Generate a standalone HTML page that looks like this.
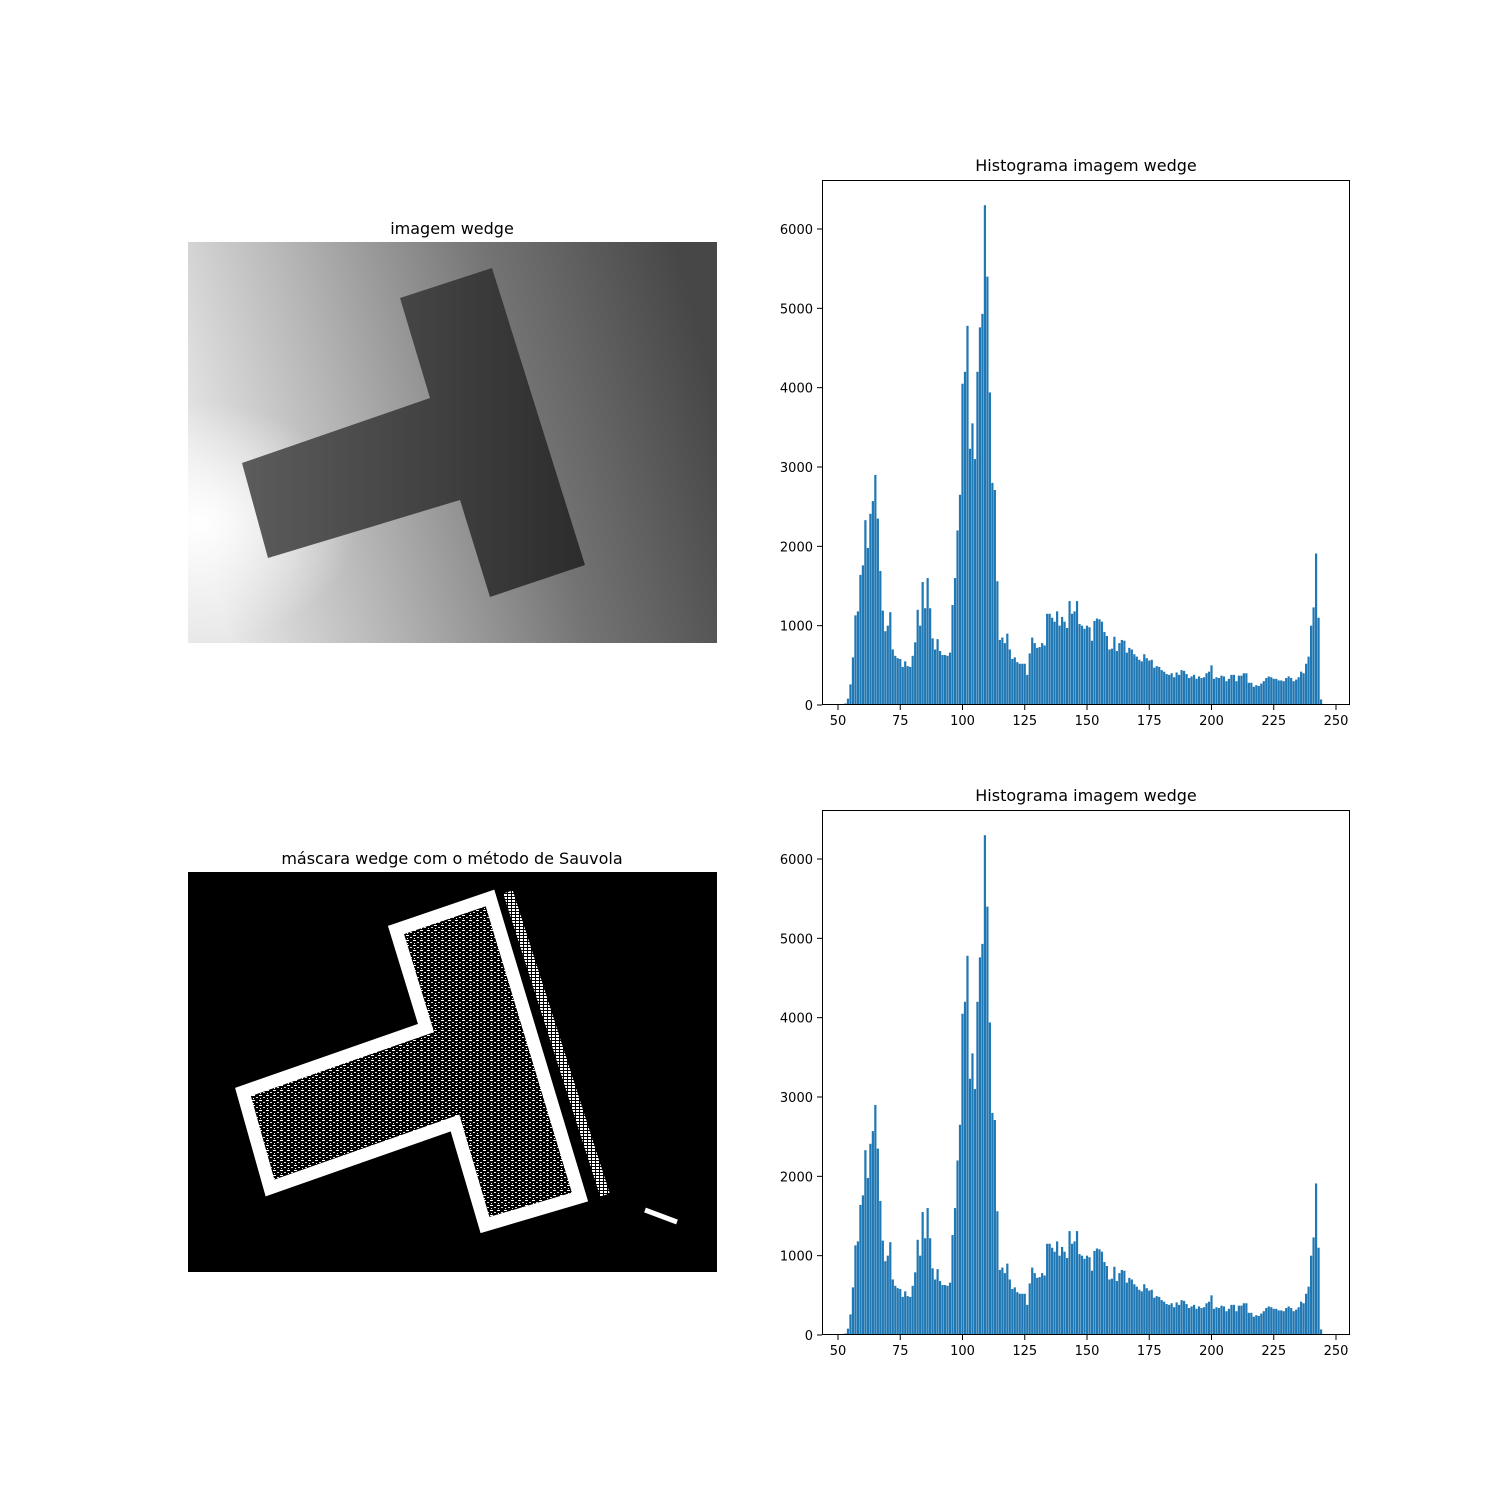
<!DOCTYPE html>
<html><head><meta charset="utf-8"><style>
html,body{margin:0;padding:0;background:#fff;}
svg{display:block;font-family:"DejaVu Sans","Liberation Sans",sans-serif;}
</style></head><body>
<svg id="fig" width="1500" height="1500" viewBox="0 0 1500 1500">
<defs>
<linearGradient id="bg" x1="0" y1="0.6" x2="1" y2="0.4">
<stop offset="0" stop-color="#e8e8e8"/><stop offset="0.3" stop-color="#b4b4b4"/><stop offset="0.65" stop-color="#747474"/><stop offset="1" stop-color="#474747"/>
</linearGradient>
<radialGradient id="glow" cx="0.02" cy="0.7" r="0.3"><stop offset="0" stop-color="#fff" stop-opacity="1"/><stop offset="1" stop-color="#fff" stop-opacity="0"/></radialGradient>
<linearGradient id="tg" x1="0" y1="0" x2="1" y2="0"><stop offset="0" stop-color="#5c5c5c"/><stop offset="1" stop-color="#2c2c2c"/></linearGradient>
<pattern id="noise" width="7" height="5" patternUnits="userSpaceOnUse"><rect width="7" height="5" fill="#000"/><rect x="0" y="0" width="3" height="1" fill="#fff"/><rect x="4" y="2" width="2" height="1" fill="#ddd"/><rect x="1" y="3" width="1" height="1" fill="#fff"/></pattern>
<pattern id="edge" width="4" height="3" patternUnits="userSpaceOnUse"><rect width="4" height="3" fill="#000"/><rect x="0" y="0" width="3" height="2" fill="#fff"/></pattern>
</defs>
<g>
<text x="452" y="234" text-anchor="middle" font-size="16">imagem wedge</text>
<rect x="188" y="242" width="529" height="401" fill="url(#bg)"/>
<rect x="188" y="242" width="529" height="401" fill="url(#glow)"/>
<polygon points="400,298 492,268 585,565 490,597 460,500 268,558 242,463 430,398" fill="url(#tg)"/>
</g>
<g>
<text x="452" y="864" text-anchor="middle" font-size="16">máscara wedge com o método de Sauvola</text>
<rect x="188" y="872" width="529" height="400" fill="#000"/>
<polygon points="396,930 490,898 580,1197 485,1225 455,1123 270,1188 243,1092 426,1028" fill="url(#noise)"/>
<polygon points="396,930 490,898 580,1197 485,1225 455,1123 270,1188 243,1092 426,1028" fill="none" stroke="#fff" stroke-width="13" stroke-linejoin="miter"/>
<line x1="508" y1="892" x2="605" y2="1195" stroke="url(#edge)" stroke-width="10"/>
<line x1="645" y1="1210" x2="677" y2="1222" stroke="#fff" stroke-width="5"/>
</g>
<g id="h1"></g>
<g id="h2"></g>
</svg>
<script>
const binStart = 53;
const counts = [20,80,260,600,1130,1180,1640,1760,2330,1980,2410,2570,2900,2350,1690,1190,930,1000,1170,700,620,590,580,480,550,490,480,620,790,1200,1000,1550,1220,1600,1220,840,700,830,680,630,630,620,660,1260,1600,2200,2650,4050,4200,4780,3230,3550,3100,4200,4760,4930,6300,5400,3940,2800,2710,1560,820,850,780,900,700,580,600,540,520,520,520,380,650,850,780,720,730,780,750,1150,1150,1100,1050,1180,1000,1110,1050,970,1310,1150,1180,1310,1020,1000,960,1000,980,810,1060,1090,1080,1050,920,870,700,710,860,680,780,820,810,660,720,700,640,610,570,550,640,590,560,570,470,490,480,440,420,390,380,400,350,410,380,440,430,390,340,360,380,330,360,340,350,400,420,500,330,350,340,370,360,300,330,380,380,300,370,370,400,400,280,280,230,250,240,270,300,340,360,350,330,330,310,310,300,340,360,340,300,320,350,420,400,520,610,1000,1230,1910,1100,70];
const xTicks = [50,75,100,125,150,175,200,225,250];
const yTicks = [0,1000,2000,3000,4000,5000,6000];
const NS="http://www.w3.org/2000/svg";
function el(t,a,p){const e=document.createElementNS(NS,t);for(const k in a)e.setAttribute(k,a[k]);p.appendChild(e);return e;}
function draw(g, top){
  const L=822,R=1350,T=top,B=top+525;
  const xs=v=>838+(v-50)*2.49;
  const ys=v=>B-v*476/6000;
  el('text',{x:1086,y:T-9,'text-anchor':'middle','font-size':16},g).textContent='Histograma imagem wedge';
  counts.forEach((c,i)=>{
    const v=binStart+i;
    const b=el('rect',{x:xs(v)-1.1,y:ys(c),width:2.2,height:B-ys(c),fill:'#1f77b4'},g);
    
    
  });
  const f=el('rect',{x:L+0.5,y:T+0.5,width:R-L-1,height:B-T-1,fill:'none',stroke:'#000','stroke-width':1},g);
  
  
  xTicks.forEach(t=>{
    const x=xs(t);
    el('line',{x1:x,y1:B,x2:x,y2:B+5,stroke:'#000'},g);
    const tx=el('text',{x:x,y:B+20,'text-anchor':'middle','font-size':13},g);
    tx.textContent=t;
    
    
  });
  yTicks.forEach(t=>{
    const y=ys(t);
    el('line',{x1:L-5,y1:y,x2:L,y2:y,stroke:'#000'},g);
    const tx=el('text',{x:L-9,y:y+5,'text-anchor':'end','font-size':13},g);
    tx.textContent=t;
    
    
  });
}
draw(document.getElementById('h1'),180);
draw(document.getElementById('h2'),810);
</script>
</body></html>
